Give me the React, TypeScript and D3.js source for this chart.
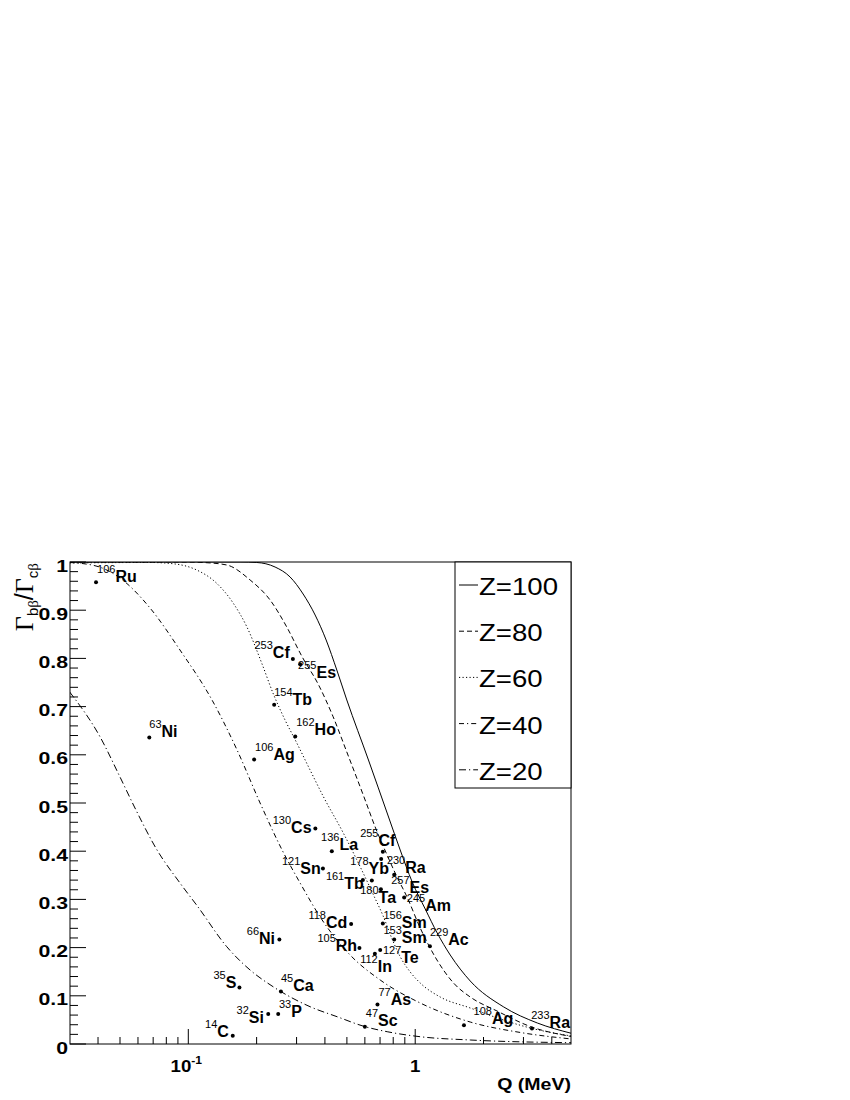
import React from 'react';
import * as d3 from 'd3';

// curves: [Q (MeV), ratio]
const curveZ100: [number, number][] = [
  [0.03, 1.0], [0.169, 1.0], [0.2003, 0.999], [0.2412, 0.9896], [0.2809, 0.9689], [0.3206, 0.9336],
  [0.3622, 0.89], [0.405, 0.8382], [0.4514, 0.7759], [0.4995, 0.7137], [0.6223, 0.5892], [0.7603, 0.473],
  [0.8587, 0.4025], [0.9701, 0.3361], [1.107, 0.2801], [1.25, 0.2303], [1.427, 0.1846], [1.748, 0.1307],
  [2.444, 0.0774], [3.453, 0.0436], [4.877, 0.0222],
];
const curveZ80: [number, number][] = [
  [0.03, 1.0], [0.1017, 1.0], [0.1161, 0.999], [0.1477, 0.9938], [0.1872, 0.9627], [0.2293, 0.9212],
  [0.2716, 0.8651], [0.3173, 0.8035], [0.3733, 0.7469], [0.4347, 0.679], [0.4995, 0.6058], [0.6016, 0.5062],
  [0.6662, 0.4502], [0.7449, 0.3963], [0.8305, 0.3471], [0.9191, 0.3056], [1.052, 0.2407], [1.247, 0.1743],
  [1.475, 0.1266], [1.748, 0.0975], [2.293, 0.0685], [3.216, 0.0363], [4.877, 0.0156],
];
const curveZ60: [number, number][] = [
  [0.03, 0.998], [0.0678, 0.999], [0.0874, 0.9959], [0.1089, 0.9834], [0.1334, 0.9558], [0.1579, 0.9143],
  [0.181, 0.8658], [0.2108, 0.7898], [0.2371, 0.726], [0.267, 0.672], [0.3007, 0.6245], [0.344, 0.5685],
  [0.3939, 0.5131], [0.4829, 0.4371], [0.572, 0.3678], [0.6549, 0.3091], [0.7245, 0.2641], [0.7877, 0.2199],
  [0.8587, 0.1811], [0.9504, 0.1494], [1.052, 0.1266], [1.289, 0.0975], [1.748, 0.0747], [2.371, 0.0519],
  [3.216, 0.0332], [4.877, 0.0166],
];
const curveZ40: [number, number][] = [
  [0.03, 0.999], [0.0392, 0.9917], [0.05, 0.9668], [0.0678, 0.9046], [0.0919, 0.8174], [0.1272, 0.7137],
  [0.164, 0.61], [0.2072, 0.5], [0.259, 0.4025], [0.311, 0.334], [0.3889, 0.2573], [0.5167, 0.1846],
  [0.7009, 0.1328], [1.052, 0.0851], [1.748, 0.0456], [2.906, 0.0239], [4.877, 0.0104],
];
const curveZ20: [number, number][] = [
  [0.03, 0.7303], [0.0408, 0.6376], [0.05, 0.5539], [0.0582, 0.4896], [0.0728, 0.4025], [0.0919, 0.334],
  [0.1104, 0.2842], [0.1477, 0.2019], [0.1872, 0.1535], [0.2364, 0.1189], [0.344, 0.0774], [0.4528, 0.0566],
  [0.6016, 0.0359], [0.7525, 0.0255], [1.052, 0.0151], [1.748, 0.0083], [4.877, 0.0027],
];

const zValues = [100, 80, 60, 40, 20];

// measured nuclei
const isoMass = [106, 63, 253, 255, 154, 162, 106, 130, 136, 255, 230, 121, 178, 161, 257, 180, 245,
  156, 118, 66, 153, 229, 105, 112, 127, 35, 45, 77, 32, 33, 47, 14, 108, 233];
const isoSymbol = ['Ru', 'Ni', 'Cf', 'Es', 'Tb', 'Ho', 'Ag', 'Cs', 'La', 'Cf', 'Ra', 'Sn', 'Yb', 'Tb', 'Es', 'Ta', 'Am',
  'Sm', 'Cd', 'Ni', 'Sm', 'Ac', 'Rh', 'In', 'Te', 'S', 'Ca', 'As', 'Si', 'P', 'Sc', 'C', 'Ag', 'Ra'];
const isoQ = [0.0392, 0.0673, 0.289, 0.311, 0.239, 0.296, 0.195, 0.363, 0.429, 0.72, 0.708, 0.392, 0.644, 0.588, 0.808, 0.706, 0.894,
  0.72, 0.522, 0.252, 0.808, 1.161, 0.568, 0.664, 0.701, 0.168, 0.256, 0.682, 0.225, 0.249, 0.6, 0.157, 1.64, 3.27];
const isoRatio = [0.958, 0.636, 0.799, 0.788, 0.704, 0.638, 0.59, 0.447, 0.4, 0.399, 0.384, 0.364, 0.339, 0.34, 0.351, 0.321, 0.304,
  0.25, 0.249, 0.217, 0.217, 0.203, 0.199, 0.187, 0.195, 0.117, 0.109, 0.082, 0.062, 0.062, 0.036, 0.017, 0.039, 0.032];

// where each label sits relative to its dot (px)
const labelOffset: [number, number][] = [
  [1, 0], [0, 0], [-38.4, -1], [-2, 14], [0, 0], [1, -1], [1, 0], [-42.6, 4.6], [-10.7, -1], [-22.7, -5.7],
  [5.7, 13.7], [-41, 5], [-21.7, -6.7], [-37, 9.3], [-3, 18.3], [-20.7, 14], [2.7, 13.7], [0.6, 4], [-42.7, 4.3],
  [-32.6, 5], [-10.7, 3.4], [0, -1], [-42, 3.4], [-14.7, 18], [2.7, 13.3], [-26, 0.6], [0, 0], [1, 0.7],
  [-31.6, 9], [0.7, 3], [1, -0.7], [-27.7, 1], [9.6, -1], [-0.7, -1],
];

const SANS = "'Liberation Sans', Arial, Helvetica, sans-serif";
const SERIF = "'Liberation Serif', 'Times New Roman', serif";

const App = () => {
  const x = d3.scaleLog().domain([0.0301, 4.86]).range([70, 571]);
  const y = d3.scaleLinear().domain([0, 1]).range([1044, 562]);

  const line = d3.line<[number, number]>()
    .x(d => x(d[0]))
    .y(d => y(d[1]))
    .curve(d3.curveMonotoneX);

  const curves = [curveZ100, curveZ80, curveZ60, curveZ40, curveZ20];
  const dashes = [null, '5,3', '1.2,2.3', '5,3,1.2,3', '7,3,1.2,3'];

  const xTicks = x.ticks();
  const isMajorX = (v: number) => Math.abs(Math.log10(v) - Math.round(Math.log10(v))) < 1e-6;
  const yMajor = d3.range(0, 11).map(i => i / 10);
  const yMinor = d3.range(0, 51).map(i => i / 50).filter((_, i) => i % 5 !== 0);

  const [x0, x1] = x.range();
  const [y0, y1] = y.range();

  const legendTop = 562;
  const legendRow = 46.2;

  return (
    <svg width={850} height={1100} style={{ position: 'absolute', left: 0, top: 0, background: '#fff' }}>
      <defs>
        <clipPath id="plot">
          <rect x={x0} y={y1} width={x1 - x0} height={y0 - y1} />
        </clipPath>
      </defs>
      <rect width={850} height={1100} fill="#fff" />

      {/* curves */}
      <g clipPath="url(#plot)" fill="none" stroke="#000" strokeWidth={1}>
        {curves.map((c, i) => (
          <path key={i} d={line(c) || ''} strokeDasharray={dashes[i] || undefined} />
        ))}
      </g>

      {/* frame */}
      <rect x={x0} y={y1} width={x1 - x0} height={y0 - y1} fill="none" stroke="#000" strokeWidth={1} />

      {/* ticks */}
      <g stroke="#000" strokeWidth={1}>
        {yMajor.map(v => <line key={'ym' + v} x1={x0} x2={x0 + 16} y1={y(v)} y2={y(v)} />)}
        {yMinor.map(v => <line key={'yn' + v} x1={x0} x2={x0 + 8} y1={y(v)} y2={y(v)} />)}
        {xTicks.map(v => (
          <line key={'x' + v} x1={x(v)} x2={x(v)} y1={y0} y2={y0 - (isMajorX(v) ? 15 : 7)} />
        ))}
      </g>

      <g fontFamily={SANS} fontWeight="bold" fontSize={17} textAnchor="end">
        {yMajor.map(v => (
          <text key={'yl' + v} transform={`translate(${x0 - 2},${y(v) + 9.5}) scale(1.25,1)`}>
            {String(+v.toFixed(1))}
          </text>
        ))}
      </g>

      <g fontFamily={SANS} fontWeight="bold" fontSize={17} textAnchor="middle">
        <text transform={`translate(${x(0.1) - 2},1071.5) scale(1.1,1)`}>
          10<tspan fontSize={11} dy={-8}>-1</tspan>
        </text>
        <text transform={`translate(${x(1)},1071.5) scale(1.1,1)`}>1</text>
        <text transform={`translate(${x1},1090) scale(1.15,1)`} textAnchor="end">Q (MeV)</text>
      </g>

      {/* y title */}
      <text transform={`translate(33,563) rotate(-90)`} textAnchor="end" fontFamily={SANS} fontSize={25}>
        <tspan fontFamily={SERIF} fontSize={26}>Γ</tspan>
        <tspan fontSize={15} dy={5}>b</tspan>
        <tspan fontSize={15} fontFamily={SERIF}>β</tspan>
        <tspan dy={-5}>/</tspan>
        <tspan fontFamily={SERIF} fontSize={26}>Γ</tspan>
        <tspan fontSize={15} dy={5}>c</tspan>
        <tspan fontSize={15} fontFamily={SERIF}>β</tspan>
      </text>

      {/* nuclei */}
      <g fontFamily={SANS}>
        {isoQ.map((q, i) => {
          const cx = x(q);
          const cy = y(isoRatio[i]);
          return (
            <g key={'iso' + i}>
              <circle cx={cx} cy={cy} r={2} fill="#000" />
              <text x={cx + labelOffset[i][0]} y={cy + labelOffset[i][1]}>
                <tspan fontSize={11} dy={-9}>{isoMass[i]}</tspan>
                <tspan fontSize={16} fontWeight="bold" dy={9}>{isoSymbol[i]}</tspan>
              </text>
            </g>
          );
        })}
      </g>

      {/* legend */}
      <rect x={455} y={legendTop} width={x1 - 455} height={226} fill="#fff" stroke="#000" strokeWidth={1} />
      {zValues.map((z, i) => {
        const cy = legendTop + 25 + i * legendRow;
        return (
          <g key={'lg' + z}>
            <line x1={459} x2={478} y1={cy - 2} y2={cy - 2} stroke="#000" strokeWidth={1}
              strokeDasharray={dashes[i] || undefined} />
            <text transform={`translate(479,${cy + 8}) scale(1.2,1)`} fontFamily={SANS} fontSize={23}>{'Z=' + z}</text>
          </g>
        );
      })}
    </svg>
  );
};

export default App;
